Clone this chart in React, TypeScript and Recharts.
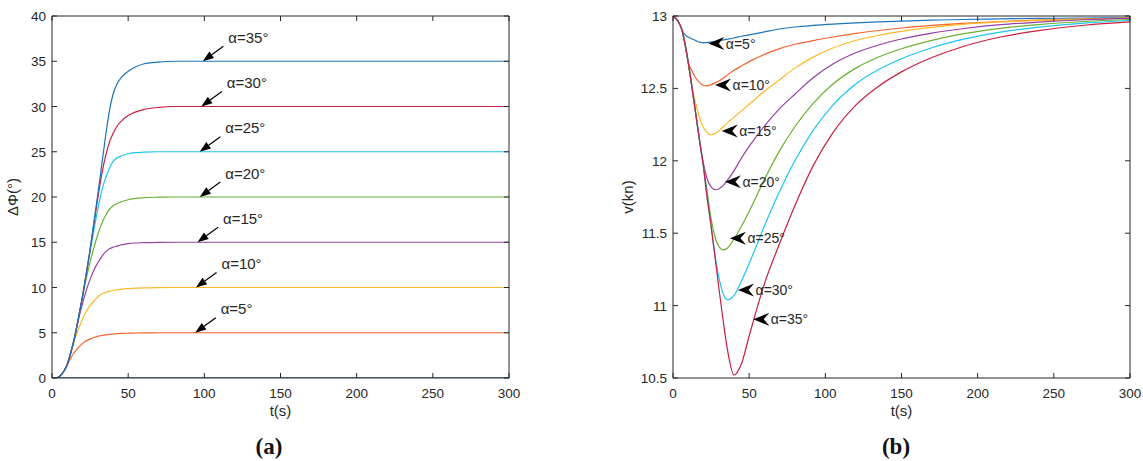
import React from "react";
import { LineChart, Line, XAxis, YAxis, ReferenceDot } from "recharts";

// (a) heading change ΔΦ vs time
const T_A = [0, 3, 5, 8, 10, 12, 15, 18, 20, 22, 25, 28, 30, 33, 35, 38, 40, 43, 45, 50, 55, 60, 70, 80, 100, 150, 200, 300];
const PHI_5 = [0, 0, 0.2, 0.8, 1.4, 2.1, 2.9, 3.5, 3.8, 4.05, 4.3, 4.5, 4.6, 4.7, 4.76, 4.83, 4.86, 4.9, 4.92, 4.95, 4.97, 4.98, 5, 5, 5, 5, 5, 5];
const PHI_10 = [0, 0, 0.2, 0.8, 1.5, 2.5, 4.3, 5.7, 6.5, 7.2, 8, 8.6, 8.95, 9.3, 9.45, 9.6, 9.67, 9.75, 9.8, 9.88, 9.93, 9.96, 9.99, 10, 10, 10, 10, 10];
const PHI_15 = [0, 0, 0.2, 0.8, 1.5, 2.6, 4.6, 6.9, 8.2, 9.4, 10.9, 12.1, 12.7, 13.5, 13.9, 14.3, 14.45, 14.6, 14.7, 14.85, 14.92, 14.95, 14.99, 15, 15, 15, 15, 15];
const PHI_20 = [0, 0, 0.2, 0.8, 1.5, 2.6, 4.6, 7.2, 8.9, 10.6, 12.8, 14.7, 15.8, 17.2, 17.9, 18.7, 19, 19.3, 19.45, 19.7, 19.85, 19.92, 19.98, 20, 20, 20, 20, 20];
const PHI_25 = [0, 0, 0.2, 0.8, 1.5, 2.6, 4.6, 7.2, 9, 11, 13.9, 16.8, 18.6, 20.9, 22, 23.3, 23.9, 24.35, 24.5, 24.78, 24.9, 24.95, 25, 25, 25, 25, 25, 25];
const PHI_30 = [0, 0, 0.2, 0.8, 1.5, 2.6, 4.6, 7.2, 9, 11, 14.2, 17.6, 19.8, 22.8, 24.4, 26.2, 27, 27.9, 28.3, 29, 29.4, 29.65, 29.9, 30, 30, 30, 30, 30];
const PHI_35 = [0, 0, 0.2, 0.8, 1.5, 2.6, 4.6, 7.2, 9, 11, 14.2, 17.8, 20.2, 24, 26.5, 29.8, 31.3, 32.6, 33.1, 33.9, 34.4, 34.7, 34.9, 35, 35, 35, 35, 35];
const ZERO_T = [0, 300];
const ZERO_V = [0, 0];

// (b) speed v vs time
const T_B = [0, 3, 6, 8, 10, 12, 15, 18, 20, 22, 25, 28, 30, 33, 36, 40, 45, 50, 60, 70, 80, 92, 105, 120, 135, 150, 170, 190, 215, 240, 270, 300];
const V_5 = [13, 12.97, 12.9, 12.87, 12.855, 12.845, 12.83, 12.818, 12.815, 12.816, 12.82, 12.825, 12.83, 12.835, 12.84, 12.848, 12.86, 12.87, 12.89, 12.91, 12.924, 12.935, 12.944, 12.952, 12.959, 12.965, 12.971, 12.976, 12.98, 12.983, 12.986, 12.988];
const V_10 = [13, 12.97, 12.9, 12.8, 12.68, 12.63, 12.57, 12.535, 12.52, 12.517, 12.525, 12.54, 12.55, 12.57, 12.595, 12.625, 12.655, 12.685, 12.735, 12.775, 12.805, 12.83, 12.855, 12.88, 12.9, 12.917, 12.935, 12.949, 12.962, 12.971, 12.979, 12.985];
const V_15 = [13, 12.97, 12.9, 12.8, 12.68, 12.54, 12.39, 12.28, 12.23, 12.2, 12.18, 12.19, 12.205, 12.235, 12.265, 12.3, 12.345, 12.39, 12.48, 12.56, 12.64, 12.716, 12.779, 12.831, 12.867, 12.894, 12.921, 12.942, 12.959, 12.97, 12.978, 12.985];
const V_20 = [13, 12.97, 12.9, 12.8, 12.68, 12.54, 12.32, 12.1, 11.98, 11.89, 11.82, 11.8, 11.805, 11.83, 11.87, 11.93, 12.02, 12.1, 12.24, 12.36, 12.46, 12.573, 12.668, 12.746, 12.8, 12.841, 12.882, 12.912, 12.94, 12.958, 12.974, 12.983];
const V_25 = [13, 12.97, 12.9, 12.8, 12.68, 12.54, 12.32, 12.1, 11.96, 11.82, 11.6, 11.46, 11.41, 11.385, 11.4, 11.46, 11.55, 11.65, 11.87, 12.07, 12.235, 12.396, 12.53, 12.64, 12.717, 12.774, 12.832, 12.876, 12.915, 12.941, 12.962, 12.976];
const V_30 = [13, 12.97, 12.9, 12.8, 12.68, 12.54, 12.32, 12.1, 11.96, 11.78, 11.55, 11.32, 11.2, 11.08, 11.04, 11.07, 11.17, 11.29, 11.55, 11.79, 12.0, 12.21, 12.385, 12.53, 12.63, 12.705, 12.781, 12.838, 12.889, 12.923, 12.951, 12.969];
const V_35 = [13, 12.97, 12.9, 12.8, 12.68, 12.54, 12.32, 12.1, 11.96, 11.78, 11.55, 11.3, 11.13, 10.89, 10.68, 10.52, 10.6, 10.79, 11.15, 11.43, 11.69, 11.965, 12.194, 12.384, 12.515, 12.614, 12.713, 12.788, 12.855, 12.899, 12.936, 12.959];

const LABELS = ["α=5°", "α=10°", "α=15°", "α=20°", "α=25°", "α=30°", "α=35°"];
const PHI_ARROW_T = [94, 94.5, 95.5, 97, 97, 98, 99];
const PHI_ARROW_V = [5, 10, 15, 20, 25, 30, 35];
const V_ARROW_T = [23.2, 27.6, 32, 34.1, 37.4, 42.7, 52.7];
const V_ARROW_V = [12.81, 12.523, 12.206, 11.856, 11.465, 11.108, 10.905];

const T_TICKS = [0, 50, 100, 150, 200, 250, 300];
const PHI_TICKS = [0, 5, 10, 15, 20, 25, 30, 35, 40];
const V_TICKS = [10.5, 11, 11.5, 12, 12.5, 13];

const C_BLUE = "#1b74bc";
const C_ORANGE = "#f4622a";
const C_YELLOW = "#fdb827";
const C_PURPLE = "#983da5";
const C_GREEN = "#68b030";
const C_CYAN = "#1ec4f2";
const C_RED = "#c8203e";

const AXIS = "#262626";
const FONT = "'Liberation Sans', Arial, sans-serif";

const dataA = T_A.map((t, i) => ({
  t,
  a5: PHI_5[i],
  a10: PHI_10[i],
  a15: PHI_15[i],
  a20: PHI_20[i],
  a25: PHI_25[i],
  a30: PHI_30[i],
  a35: PHI_35[i],
}));
const zeroData = ZERO_T.map((t, i) => ({ t, z: ZERO_V[i] }));

const dataB = T_B.map((t, i) => ({
  t,
  a5: V_5[i],
  a10: V_10[i],
  a15: V_15[i],
  a20: V_20[i],
  a25: V_25[i],
  a30: V_30[i],
  a35: V_35[i],
}));

const COLORS_A = [C_ORANGE, C_YELLOW, C_PURPLE, C_GREEN, C_CYAN, C_RED, C_BLUE];
const COLORS_B = [C_BLUE, C_ORANGE, C_YELLOW, C_PURPLE, C_GREEN, C_CYAN, C_RED];
const KEYS = ["a5", "a10", "a15", "a20", "a25", "a30", "a35"];

// inward MATLAB-style ticks
const BottomTick = (p: any) => (
  <g>
    <line x1={p.x} y1={p.y} x2={p.x} y2={p.y - 5} stroke={AXIS} />
    <text x={p.x} y={p.y + 20} textAnchor="middle" fontSize={13.5} fontFamily={FONT} fill="#262626">
      {p.payload.value}
    </text>
  </g>
);
const TopTick = (p: any) => <line x1={p.x} y1={p.y} x2={p.x} y2={p.y + 5} stroke={AXIS} />;
const LeftTick = (p: any) => (
  <g>
    <line x1={p.x} y1={p.y} x2={p.x + 5} y2={p.y} stroke={AXIS} />
    <text x={p.x - 6} y={p.y + 5} textAnchor="end" fontSize={13.5} fontFamily={FONT} fill="#262626">
      {p.payload.value}
    </text>
  </g>
);
const RightTick = (p: any) => <line x1={p.x} y1={p.y} x2={p.x - 5} y2={p.y} stroke={AXIS} />;

const xLabel = (text: string) => (props: any) => {
  const vb = props.viewBox;
  return (
    <text x={vb.x + vb.width / 2} y={vb.y + 38} textAnchor="middle" fontSize={15} fontFamily={FONT} fill="#262626">
      {text}
    </text>
  );
};
const yLabel = (text: string, off: number) => (props: any) => {
  const vb = props.viewBox;
  const cx = vb.x + vb.width - off;
  const cy = vb.y + vb.height / 2;
  return (
    <text
      x={cx}
      y={cy}
      transform={`rotate(-90 ${cx} ${cy})`}
      textAnchor="middle"
      dominantBaseline="central"
      fontSize={15}
      fontFamily={FONT}
      fill="#262626"
    >
      {text}
    </text>
  );
};

// slanted arrow with text above-right (panel a)
const SlantArrow = ({ cx, cy, text }: { cx: number; cy: number; text: string }) => {
  const dx = 20.6;
  const dy = -15;
  const len = Math.hypot(dx, dy);
  const ux = -dx / len;
  const uy = -dy / len;
  const bx = cx - 11 * ux;
  const by = cy - 11 * uy;
  const nx = -uy;
  const ny = ux;
  const pts = `${cx},${cy} ${bx + 4 * nx},${by + 4 * ny} ${bx - 4 * nx},${by - 4 * ny}`;
  return (
    <g>
      <line x1={cx + dx} y1={cy + dy} x2={bx} y2={by} stroke="#000" strokeWidth={1.2} />
      <polygon points={pts} fill="#000" />
      <text x={cx + 25.5} y={cy - 18.5} fontSize={15} fontFamily={FONT} fill="#262626">
        {text}
      </text>
    </g>
  );
};

// left-pointing arrowhead with text (panel b)
const HeadArrow = ({ cx, cy, text }: { cx: number; cy: number; text: string }) => (
  <g>
    <polygon
      points={`${cx},${cy} ${cx + 16},${cy - 6.5} ${cx + 10.5},${cy} ${cx + 16},${cy + 6.5}`}
      fill="#000"
    />
    <text x={cx + 17.5} y={cy + 5} fontSize={14} fontFamily={FONT} fill="#262626">
      {text}
    </text>
  </g>
);

// axes with 1px footprint so the plot box lands where MATLAB put it
const axisCommon = {
  type: "number" as const,
  interval: 0 as const,
  allowDataOverflow: true,
  tickSize: 0,
  tickMargin: 0,
  tickLine: false,
  axisLine: { stroke: AXIS },
};

const captionStyle: React.CSSProperties = {
  position: "absolute",
  top: 434.5,
  width: 100,
  textAlign: "center",
  fontFamily: "'Liberation Serif', 'Times New Roman', serif",
  fontWeight: "bold",
  fontSize: 23,
  lineHeight: "23px",
  color: "#111",
};

export default function App() {
  return (
    <div style={{ position: "absolute", left: 0, top: 0, width: 1143, height: 461, background: "#fff" }}>
      <div style={{ position: "absolute", left: 0, top: 0 }}>
        <LineChart width={560} height={461} data={dataA} margin={{ top: 15, right: 50, bottom: 82, left: 51 }}>
          <XAxis {...axisCommon} dataKey="t" domain={[0, 300]} ticks={T_TICKS} height={1} tick={<BottomTick />} label={{ content: xLabel("t(s)") }} />
          <XAxis {...axisCommon} xAxisId="top" orientation="top" dataKey="t" domain={[0, 300]} ticks={T_TICKS} height={1} tick={<TopTick />} />
          <YAxis {...axisCommon} domain={[0, 40]} ticks={PHI_TICKS} width={1} tick={<LeftTick />} label={{ content: yLabel("ΔΦ(°)", 40) }} />
          <YAxis {...axisCommon} yAxisId="right" orientation="right" domain={[0, 40]} ticks={PHI_TICKS} width={1} tick={<RightTick />} />
          <Line data={zeroData} dataKey="z" stroke={C_BLUE} strokeWidth={1.4} dot={false} isAnimationActive={false} />
          {KEYS.map((k, i) => (
            <Line
              key={k}
              type="monotone"
              dataKey={k}
              stroke={COLORS_A[i]}
              strokeWidth={1.2}
              dot={false}
              isAnimationActive={false}
            />
          ))}
          {LABELS.map((lab, i) => (
            <ReferenceDot
              key={lab}
              x={PHI_ARROW_T[i]}
              y={PHI_ARROW_V[i]}
              r={0}
              shape={(p: any) => <SlantArrow cx={p.cx} cy={p.cy} text={lab} />}
            />
          ))}
        </LineChart>
      </div>

      <div style={{ position: "absolute", left: 600, top: 0 }}>
        <LineChart width={543} height={461} data={dataB} margin={{ top: 15, right: 12, bottom: 82, left: 72 }}>
          <XAxis {...axisCommon} dataKey="t" domain={[0, 300]} ticks={T_TICKS} height={1} tick={<BottomTick />} label={{ content: xLabel("t(s)") }} />
          <XAxis {...axisCommon} xAxisId="top" orientation="top" dataKey="t" domain={[0, 300]} ticks={T_TICKS} height={1} tick={<TopTick />} />
          <YAxis {...axisCommon} domain={[10.5, 13]} ticks={V_TICKS} width={1} tick={<LeftTick />} label={{ content: yLabel("v(kn)", 46) }} />
          <YAxis {...axisCommon} yAxisId="right" orientation="right" domain={[10.5, 13]} ticks={V_TICKS} width={1} tick={<RightTick />} />
          {KEYS.map((k, i) => (
            <Line
              key={k}
              type="monotone"
              dataKey={k}
              stroke={COLORS_B[i]}
              strokeWidth={1.2}
              dot={false}
              isAnimationActive={false}
            />
          ))}
          {LABELS.map((lab, i) => (
            <ReferenceDot
              key={lab}
              x={V_ARROW_T[i]}
              y={V_ARROW_V[i]}
              r={0}
              shape={(p: any) => <HeadArrow cx={p.cx} cy={p.cy} text={lab} />}
            />
          ))}
        </LineChart>
      </div>

      <div style={{ ...captionStyle, left: 219 }}>(a)</div>
      <div style={{ ...captionStyle, left: 846 }}>(b)</div>
    </div>
  );
}
